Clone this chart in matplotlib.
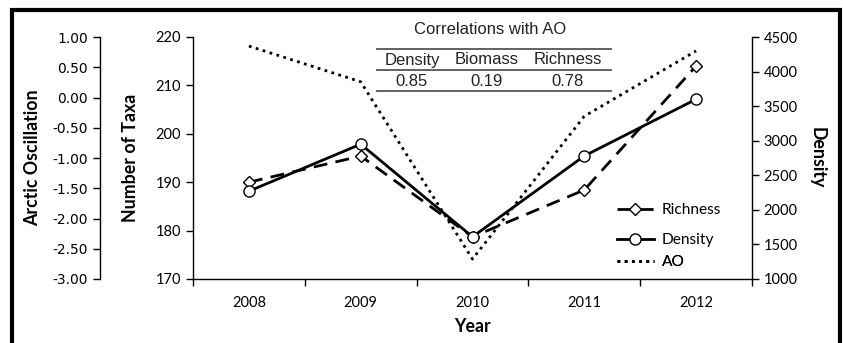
import matplotlib.pyplot as plt
from matplotlib.lines import Line2D
from matplotlib.patches import Rectangle

years = ["2008", "2009", "2010", "2011", "2012"]
richness = [190.0, 195.4, 178.7, 188.4, 214.0]
density = [2270, 2950, 1610, 2780, 3600]
ao = [0.85, 0.26, -2.67, -0.31, 0.77]

corr_labels = ["Density", "Biomass", "Richness"]
corr_values = ["0.85", "0.19", "0.78"]

W, H = 843, 343
tick_font = "Lato"
table_font = "Liberation Sans"
tick_size = 10.5
label_size = 12.8

fig = plt.figure(figsize=(W / 100, H / 100), dpi=100)
fig.patch.set_facecolor("white")


def fx(px):
    return px / W


def fy(py):
    return 1 - py / H


ax = fig.add_axes([fx(193), fy(279), fx(752) - fx(193), fy(37) - fy(279)])
ax_d = ax.twinx()
ax_ao = ax.twinx()

x = list(range(1, len(years) + 1))

ln_ao, = ax_ao.plot(x, ao, color="black", lw=2, linestyle=(0, (1, 1.6)), label="AO")
ln_r, = ax.plot(x, richness, color="black", lw=2, linestyle=(0, (5, 3)),
                marker="D", markersize=6, markerfacecolor="white",
                markeredgecolor="black", markeredgewidth=1, label="Richness")
ln_d, = ax_d.plot(x, density, color="black", lw=2, marker="o", markersize=8,
                  markerfacecolor="white", markeredgecolor="black",
                  markeredgewidth=1, label="Density")

# taxa axis
ax.set_xlim(0.5, 5.5)
ax.set_ylim(170, 220)
ax.set_yticks(range(170, 221, 10))
ax.set_xticks([i + 0.5 for i in range(0, 6)])
ax.set_xticklabels([])
ax.set_xticks(x, minor=True)
ax.set_xticklabels(years, minor=True, fontfamily=tick_font, fontsize=tick_size)
ax.tick_params(axis="x", which="minor", length=0, pad=12)
ax.tick_params(axis="x", which="major", length=5, direction="out", width=1)
ax.tick_params(axis="y", length=5, direction="out", width=1, labelsize=tick_size)
for lab in ax.get_yticklabels():
    lab.set_fontfamily(tick_font)
ax.spines["top"].set_visible(False)
ax.spines["right"].set_visible(False)
ax.set_ylabel("Number of Taxa", fontfamily=tick_font, fontweight="bold",
              fontsize=label_size, labelpad=12)
ax.set_xlabel("Year", fontfamily=tick_font, fontweight="bold",
              fontsize=label_size, labelpad=6)

# density axis
ax_d.set_ylim(1000, 4500)
ax_d.set_yticks(range(1000, 4501, 500))
ax_d.tick_params(axis="y", length=5, direction="out", width=1, labelsize=tick_size)
for lab in ax_d.get_yticklabels():
    lab.set_fontfamily(tick_font)
for s in ["top", "left", "bottom"]:
    ax_d.spines[s].set_visible(False)
ax_d.set_ylabel("Density", fontfamily=tick_font, fontweight="bold",
                fontsize=label_size, rotation=270, labelpad=20)

# AO axis
ax_ao.set_ylim(-3, 1)
ax_ao.set_yticks([1.0, 0.5, 0.0, -0.5, -1.0, -1.5, -2.0, -2.5, -3.0])
ax_ao.set_yticklabels([f"{v:.2f}" for v in ax_ao.get_yticks()],
                      fontfamily=tick_font, fontsize=tick_size)
ax_ao.yaxis.set_label_position("left")
ax_ao.yaxis.set_ticks_position("left")
ax_ao.spines["left"].set_position(("axes", (100 - 193) / (752 - 193)))
ax_ao.spines["left"].set_visible(True)
for s in ["top", "right", "bottom"]:
    ax_ao.spines[s].set_visible(False)
ax_ao.tick_params(axis="y", length=5, direction="out", width=1)
ax_ao.set_ylabel("Arctic Oscillation", fontfamily=tick_font, fontweight="bold",
                 fontsize=label_size, labelpad=8)

for a in (ax, ax_d, ax_ao):
    a.patch.set_visible(False)
    for s in a.spines.values():
        s.set_linewidth(1)

# legend, one entry at a time to keep the uneven spacing
for handle, name, py in [(ln_r, "Richness", 210), (ln_d, "Density", 240), (ln_ao, "AO", 262)]:
    leg = ax.legend([handle], [name], loc="center left",
                    bbox_to_anchor=(fx(609), fy(py)), bbox_transform=fig.transFigure,
                    frameon=False, handlelength=2.4, handletextpad=0.5,
                    borderpad=0, prop={"family": tick_font, "size": 11.2})
    ax.add_artist(leg)

# correlation table
fig.text(fx(490), fy(29), "Correlations with AO", ha="center", va="center",
         fontfamily=table_font, fontsize=12, color="#222222")
for py in (49, 70, 91):
    fig.add_artist(Line2D([fx(377), fx(611)], [fy(py), fy(py)],
                          color="#555555", lw=1.3))
col_x = [412, 487, 568]
for cx, lab, val in zip(col_x, corr_labels, corr_values):
    fig.text(fx(cx), fy(60), lab, ha="center", va="center",
             fontfamily=table_font, fontsize=12, color="#222222")
    fig.text(fx(cx), fy(81), val, ha="center", va="center",
             fontfamily=table_font, fontsize=12, color="#222222")

# outer frame, bottom edge is cut off in the original
fig.add_artist(Rectangle((fx(11.5), -0.05), fx(840) - fx(11.5), fy(9.5) + 0.05,
                         transform=fig.transFigure, fill=False,
                         edgecolor="black", lw=3))

fig.savefig("out.png", dpi=100)
